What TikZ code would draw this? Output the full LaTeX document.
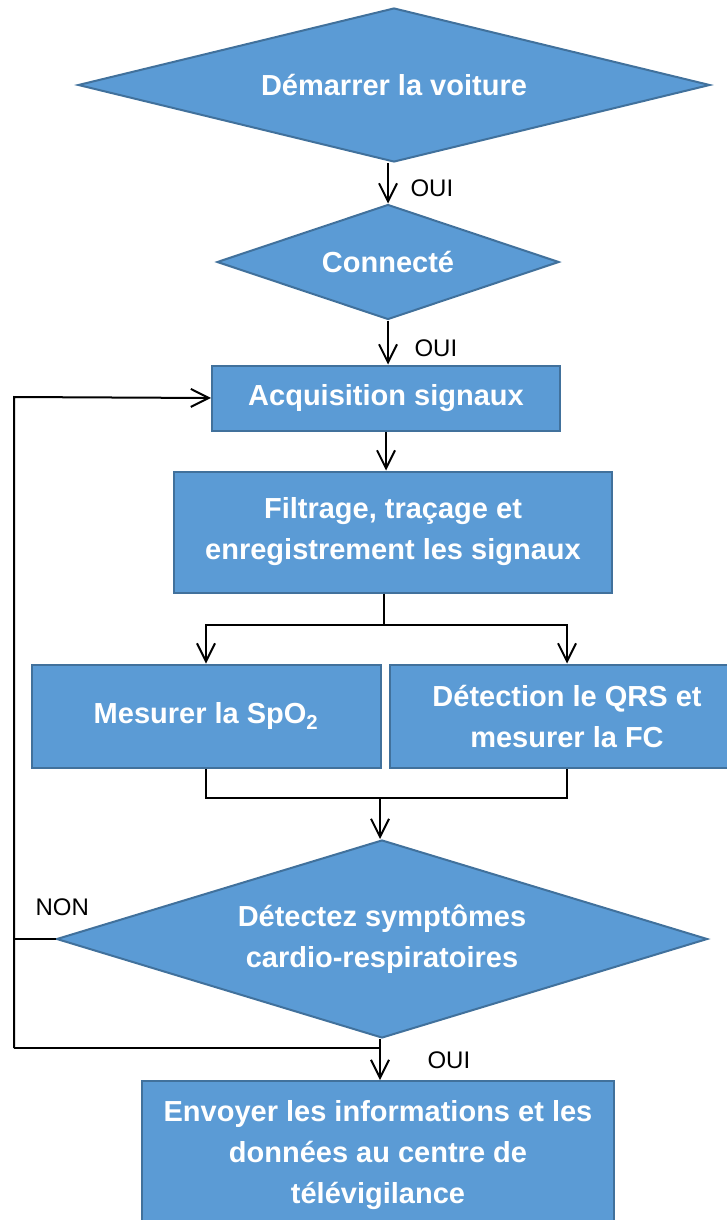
\documentclass[tikz,border=0pt]{standalone}
\usepackage{fontspec}
\setmainfont{Liberation Sans}
\usetikzlibrary{shapes.geometric,arrows.meta}
\definecolor{boxfill}{HTML}{5B9BD5}
\definecolor{boxline}{HTML}{41719C}
\tikzset{
  box/.style={rectangle,draw=boxline,fill=boxfill,line width=2pt,text=white,
    font=\fontsize{29}{41}\selectfont\bfseries,align=center,inner sep=0pt},
  test/.style={diamond,draw=boxline,fill=boxfill,line width=2pt,text=white,
    font=\fontsize{29}{41}\selectfont\bfseries,align=center,inner sep=0pt},
  line/.style={line width=2pt},
  arr/.style={line width=2pt,-{Straight Barb[length=18pt,width=18pt,line width=2pt]}},
  lbl/.style={font=\fontsize{24}{28}\selectfont,anchor=west}
}
\begin{document}
\begin{tikzpicture}[x=1pt,y=-1pt]
  \useasboundingbox (0,0) rectangle (726,1220);
  % steps
  \node[test,aspect=4.1,minimum width=632pt,minimum height=154pt] (start) at (394,85) {Démarrer la voiture};
  \node[test,aspect=3,minimum width=342pt,minimum height=115pt] (conn) at (388,262) {Connecté};
  \node[box,minimum width=348pt,minimum height=65pt] (acq) at (386,398) {Acquisition signaux};
  \node[box,minimum width=438pt,minimum height=121pt] (filt) at (393,532) {Filtrage, traçage et\\enregistrement les signaux};
  \node[box,minimum width=349pt,minimum height=103pt] (spo) at (206,716) {Mesurer la SpO\textsubscript{2}};
  \node[box,minimum width=354pt,minimum height=103pt] (qrs) at (567,716) {Détection le QRS et\\mesurer la FC};
  \node[test,aspect=3.3,minimum width=651pt,minimum height=198pt] (sympt) at (382,939) {Détectez symptômes\\cardio-respiratoires};
  \node[box,minimum width=472pt,minimum height=148pt] (send) at (378,1155) {Envoyer les informations et les\\données au centre de\\télévigilance};
  % helper points
  \coordinate (split) at (384,625);
  \coordinate (merge) at (380,798);
  \coordinate (lt) at (14,397);
  \coordinate (lb) at (14,1048);
  \coordinate (join) at (380,1048);
  % connectors
  \draw[arr] (conn.north |- start.south) -- (conn.north);
  \node[lbl] (oui1) at (407,188) {OUI};
  \draw[arr] (conn.south) -- (conn.south |- acq.north);
  \node[lbl] (oui2) at (411,348) {OUI};
  \draw[arr] (acq.south) -- (acq.south |- filt.north);
  \draw[line] (split |- filt.south) -- (split);
  \draw[arr] (split) -| (spo.north);
  \draw[arr] (split) -| (qrs.north);
  \draw[line] (spo.south) |- (merge) -| (qrs.south);
  \draw[arr] (merge) -- (merge |- sympt.north);
  \draw[line] (sympt.west) -- (sympt.west -| lt);
  \draw[arr] (lb) -- (lt) -- (acq.west);
  \draw[line] (lb) -- (join);
  \node[lbl] (non) at (32,907) {NON};
  \draw[arr] (join |- sympt.south) -- (join |- send.north);
  \node[lbl] (oui3) at (424,1060) {OUI};
\end{tikzpicture}
\end{document}
